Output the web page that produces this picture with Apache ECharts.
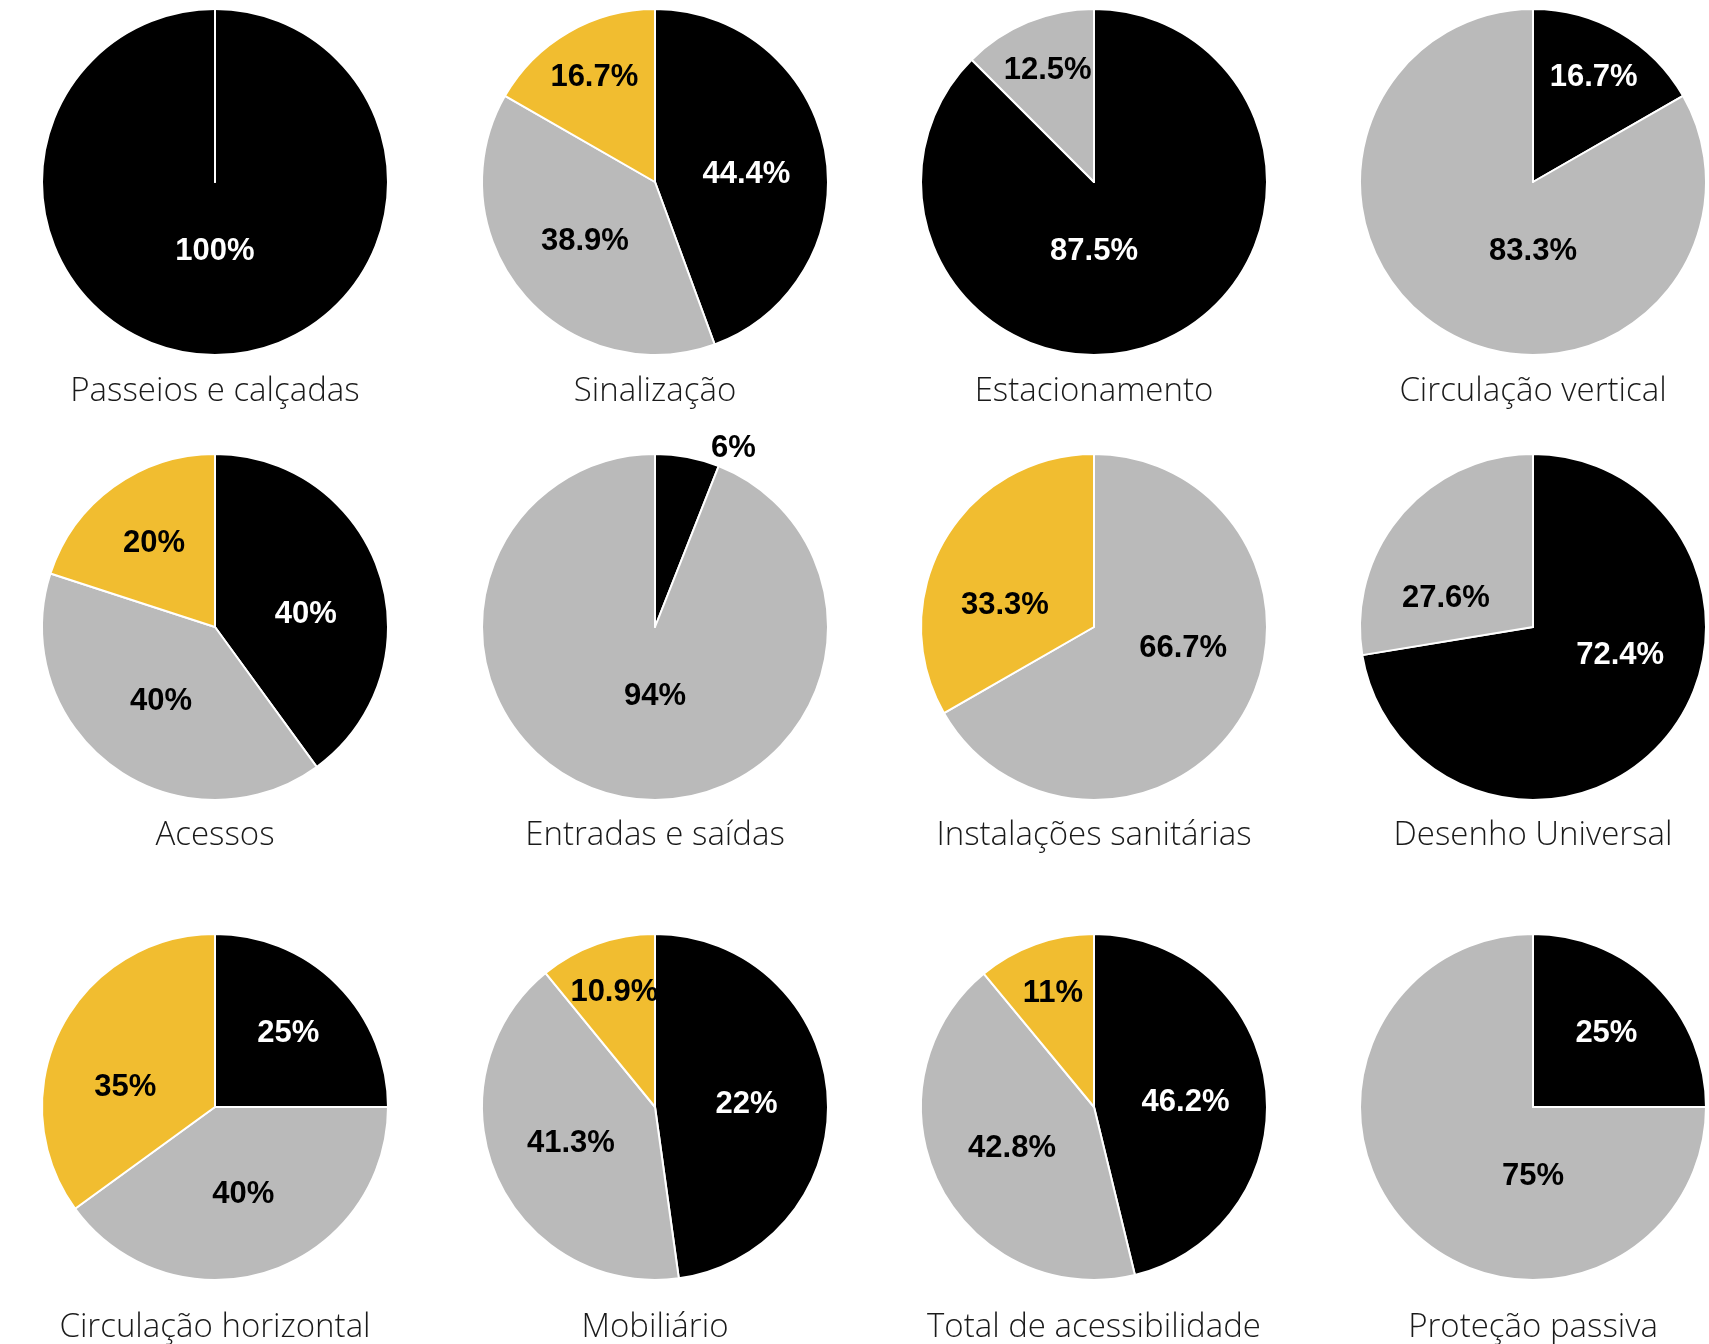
<!DOCTYPE html>
<html>
<head>
<meta charset="utf-8">
<script src="https://cdn.jsdelivr.net/npm/echarts@6/dist/echarts.min.js"></script>
<style>
html,body{margin:0;padding:0;background:#ffffff;}
#chart{width:1709px;height:1344px;}
</style>
</head>
<body>
<div id="chart"></div>
<script>
// ---- data ----
const categories = ['Passeios e calçadas', 'Sinalização', 'Estacionamento', 'Circulação vertical',
  'Acessos', 'Entradas e saídas', 'Instalações sanitárias', 'Desenho Universal',
  'Circulação horizontal', 'Mobiliário', 'Total de acessibilidade', 'Proteção passiva'];
const blackValues  = [100, 44.4, 87.5, 16.7, 40, 6, 0, 72.4, 25, 47.8, 46.2, 25];
const grayValues   = [0, 38.9, 12.5, 83.3, 40, 94, 66.7, 27.6, 40, 41.3, 42.8, 75];
const yellowValues = [0, 16.7, 0, 0, 20, 0, 33.3, 0, 35, 10.9, 11, 0];
// percentage texts printed on the slices (as printed in the source)
const blackLabels  = ['100%', '44.4%', '87.5%', '16.7%', '40%', '6%', '', '72.4%', '25%', '22%', '46.2%', '25%'];
const grayLabels   = ['', '38.9%', '12.5%', '83.3%', '40%', '94%', '66.7%', '27.6%', '40%', '41.3%', '42.8%', '75%'];
const yellowLabels = ['', '16.7%', '', '', '20%', '', '33.3%', '', '35%', '10.9%', '11%', ''];

// ---- layout / style ----
const colX = [215, 655, 1094, 1533];
const rowY = [182, 627, 1107];
const R = 173;
const titleGap = [210, 209, 221];
const sliceColors = ['#000000', '#bababa', '#f1bd30'];
const labelColors = ['#ffffff', '#000000', '#000000'];
const SMALL = 0.08;

// label placement rule (derived from each slice's own angular geometry)
function labelSpot(vals, k, cx, cy) {
  const total = vals.reduce((a, b) => a + b, 0);
  let before = 0;
  for (let j = 0; j < k; j++) before += vals[j];
  const f = vals[k] / total;
  const midDeg = (before + vals[k] / 2) / total * 360;
  if (f >= 0.74) {
    return { x: cx, y: cy + 0.4 * R, align: 'center', verticalAlign: 'middle' };
  }
  if (f < SMALL) {
    const rr = R * 1.05, a = midDeg * Math.PI / 180;
    return { x: cx + rr * Math.sin(a) + 22, y: cy - rr * Math.cos(a), align: 'left', verticalAlign: 'middle' };
  }
  let angDeg = midDeg;
  if (f >= 0.27 && midDeg < 150) angDeg = 90 + (midDeg - 90) * 0.45;
  else if (f >= 0.27 && midDeg > 270) angDeg = 270 + (midDeg - 270) * 0.45;
  const d = (f < 0.2 ? 0.7 : (f < 0.27 ? 0.6 : 0.53)) * R;
  const a = angDeg * Math.PI / 180;
  return { x: cx + d * Math.sin(a), y: cy - d * Math.cos(a), align: 'center', verticalAlign: 'middle' };
}

const series = [];
const titles = [];
categories.forEach((name, i) => {
  const cx = colX[i % 4];
  const cy = rowY[Math.floor(i / 4)];
  const vals = [blackValues[i], grayValues[i], yellowValues[i]];
  const texts = [blackLabels[i], grayLabels[i], yellowLabels[i]];
  const total = vals.reduce((a, b) => a + b, 0);
  series.push({
    type: 'pie',
    name: name,
    center: [cx, cy],
    radius: R,
    startAngle: 90,
    clockwise: true,
    avoidLabelOverlap: false,
    silent: true,
    animation: false,
    itemStyle: { borderColor: '#ffffff', borderWidth: 2 },
    label: {
      show: true,
      position: 'inside',
      formatter: p => texts[p.dataIndex],
      fontFamily: '"Liberation Sans", Arial, sans-serif',
      fontWeight: 'bold',
      fontSize: 31
    },
    labelLine: { show: false },
    labelLayout: p => labelSpot(vals, p.dataIndex, cx, cy),
    data: vals.map((v, k) => {
      const outside = v / total < SMALL;
      return {
        value: v,
        name: ['preto', 'cinza', 'amarelo'][k],
        itemStyle: { color: sliceColors[k] },
        label: {
          show: v > 0,
          color: outside ? '#000000' : labelColors[k],
          position: outside ? 'outside' : 'inside'
        },
        labelLine: { show: false }
      };
    })
  });
  titles.push({
    text: name,
    left: cx,
    top: cy + titleGap[Math.floor(i / 4)],
    textAlign: 'center',
    textVerticalAlign: 'middle',
    padding: 0,
    textStyle: {
      fontFamily: '"Open Sans", "Liberation Sans", sans-serif',
      fontWeight: 300,
      fontSize: 33,
      color: '#1a1a1a'
    }
  });
});

const chart = echarts.init(document.getElementById('chart'), null, { renderer: 'canvas' });
chart.setOption({
  backgroundColor: '#ffffff',
  animation: false,
  title: titles,
  series: series
});
</script>
</body>
</html>
